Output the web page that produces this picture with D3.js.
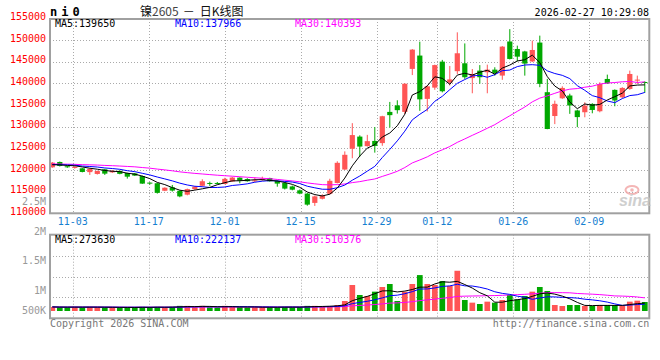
<!DOCTYPE html>
<html>
<head>
<meta charset="utf-8">
<script src="https://cdn.jsdelivr.net/npm/d3@7"></script>
<style>
  body { margin: 0; background: #fff; }
  svg { display: block; }
</style>
</head>
<body>
<svg id="chart" width="660" height="360"></svg>
<script>
const dates = ['10-29','10-30','10-31','11-03','11-04','11-05','11-06','11-07','11-10','11-11',
  '11-12','11-13','11-14','11-17','11-18','11-19','11-20','11-21','11-24','11-25',
  '11-26','11-27','11-28','12-01','12-02','12-03','12-04','12-05','12-08','12-09',
  '12-10','12-11','12-12','12-15','12-16','12-17','12-18','12-19','12-22','12-23',
  '12-24','12-25','12-26','12-29','12-30','12-31','01-05','01-06','01-07','01-08',
  '01-09','01-12','01-13','01-14','01-15','01-16','01-19','01-20','01-21','01-22',
  '01-23','01-26','01-27','01-28','01-29','01-30','02-02','02-03','02-04','02-05',
  '02-06','02-09','02-10','02-11','02-12','02-13','02-24','02-25','02-26','02-27']

const opens = [120610,121840,120850,120500,120380,119500,119080,120150,119450,119800,
  119300,119200,118600,117080,116930,115200,116000,115200,114300,115600,
  116350,117000,117000,116770,117350,118230,117900,117500,117700,118150,
  117470,117000,116200,115300,114550,112400,113350,114500,117000,120100,
  124900,127700,125500,126700,126200,133400,134900,133400,143320,146400,
  136400,139000,145000,140150,142800,144620,141200,142930,142550,143150,
  141780,149650,147920,147350,145050,149400,137950,132450,136540,137180,
  133730,133320,135240,133550,141000,138480,136770,138700,140700,140300]

const highs = [121840,121950,120950,120900,120450,120350,119850,120250,120000,119850,
  119350,119300,118700,117160,117000,116000,116540,115300,115700,116250,
  117850,117310,117230,118200,118400,118300,118100,118300,118460,118200,
  117600,117200,116400,115500,114700,114100,114400,117970,122000,124290,
  130800,128000,128100,129900,132500,135700,136080,140000,147900,149600,
  139500,144300,145400,144000,151760,149200,143300,144200,144300,143700,
  148600,152500,148690,147500,149850,151000,141020,136000,139300,137600,
  133900,135620,135400,140240,142000,138600,139100,142930,141770,140450]

const lows = [120500,120800,120500,120300,119450,118850,118950,118850,119300,119000,
  118000,118600,116800,116620,114550,115100,115010,113700,114150,115400,
  116200,116310,116700,116700,117250,116930,117300,117230,117500,117300,
  116140,115500,115300,114400,111750,111700,113200,114300,116900,120000,
  122700,123100,125400,124000,125580,129800,133000,132900,141900,133650,
  133500,138500,137900,139500,142150,141000,137700,139900,137700,141770,
  140800,145500,145080,141770,144900,139100,129400,130580,136400,132950,
  129880,132160,133080,133310,139850,134700,136600,138500,139850,137800]

const closes = [121690,120920,120620,120700,119540,120250,119770,119150,119800,119100,
  118450,118700,116850,116930,114720,115900,115240,113900,115580,116150,
  117400,116900,116930,117950,118250,117540,117400,117600,118000,117390,
  116850,115700,115450,114550,112000,113900,114100,117500,121650,123500,
  128050,125400,126650,125550,132400,132650,133800,139900,147770,136300,
  139300,144200,138160,140900,146930,141400,142150,141400,143150,142400,
  148460,145620,146150,144550,147690,139870,129450,135260,138930,134880,
  132200,134850,133850,139850,140000,136030,138930,142150,140850,140230]

// sessions before the window, estimated from where the MA lines start
const warmupCloses = [121600,121400,121700,121900,121500,121300,121600,121800,121400,121200,
  121500,121700,121300,121100,121400,121600,121200,121000,121300,121500,
  121300,121100,121400,121600,121200,121000,121300,121100,120900]

const volumes = [150000,140000,140000,150000,140000,150000,140000,130000,140000,120000,
  140000,140000,150000,130000,150000,140000,150000,190000,190000,140000,
  190000,140000,130000,190000,150000,140000,130000,140000,150000,140000,
  140000,150000,140000,150000,190000,190000,170000,185000,222000,370000,
  963000,593000,556000,716000,889000,1000000,370000,716000,1000000,1330000,
  1000000,963000,1110000,926000,1490000,407000,309000,259000,346000,309000,
  407000,593000,432000,556000,716000,889000,741000,222000,185000,222000,
  222000,185000,185000,222000,222000,222000,185000,346000,383000,333000]

const priceTicks = [110000,115000,120000,125000,130000,135000,140000,145000,150000,155000]
const dateTicks = ['11-03','11-17','12-01','12-15','12-29','01-12','01-26','02-09']
const volTickValues = [2500000,2000000,1500000,1000000,500000]
const volTickLabels = ['2.5M','2M','1.5M','1M','500K']
const maPeriods = [5, 10, 30]
const maColors = ['#000000', '#0000ff', '#ff00ff']
const priceLegend = [139650, 137966, 140393]
const volumeLegend = [273630, 222137, 510376]

const UP = '#ff5555'
const DOWN = '#00a800'
const FRAME = '#a0a0a0'
const MONO = "'DejaVu Sans Mono', monospace"

const svg = d3.select('#chart')

const plot = { left: 50, right: 649.3, top: 19, bottom: 213.3 }
const vplot = { top: 234.7, bottom: 318.3 }

const x = d3.scaleBand().domain(dates).range([48.55, 648.55])
const xGrid = d3.scalePoint().domain(dates).range([50, 650])
const y = d3.scaleLinear().domain([110000, 155000]).range([plot.bottom, 18.3])
const yVol = d3.scaleLinear().domain([0, 1000000]).range([311, 284])
const yVolGrid = d3.scaleLinear().domain([0, 4]).range([vplot.bottom, vplot.top])
const yVolLabel = d3.scaleLinear().domain([500000, 2500000]).range([320.7, 201])

const cx = i => x(dates[i]) + x.bandwidth() / 2
const crisp = v => Math.round(v) + 0.5
const isUp = i => closes[i] >= opens[i]

function movingAvg(values, n) {
  return values.map((v, i) => d3.mean(values.slice(Math.max(0, i - n + 1), i + 1)))
}

// grid lines
const grid = svg.append('g')
  .attr('stroke', '#aaa')
  .attr('stroke-dasharray', '1,2')
  .attr('stroke-width', 1)

grid.selectAll('.hgrid')
  .data(priceTicks.filter(v => v > 110000 && v < 155000))
  .join('line')
  .attr('x1', plot.left).attr('x2', plot.right)
  .attr('y1', d => crisp(y(d))).attr('y2', d => crisp(y(d)))

grid.selectAll('.vgrid')
  .data(dateTicks)
  .join('line')
  .attr('x1', d => crisp(xGrid(d))).attr('x2', d => crisp(xGrid(d)))
  .attr('y1', plot.top).attr('y2', plot.bottom)

grid.selectAll('.vhgrid')
  .data([1, 2, 3])
  .join('line')
  .attr('x1', plot.left).attr('x2', plot.right)
  .attr('y1', d => crisp(yVolGrid(d))).attr('y2', d => crisp(yVolGrid(d)))

grid.selectAll('.vvgrid')
  .data(dateTicks)
  .join('line')
  .attr('x1', d => crisp(xGrid(d))).attr('x2', d => crisp(xGrid(d)))
  .attr('y1', vplot.top).attr('y2', vplot.bottom)

// candles
const idx = d3.range(dates.length)
const candles = svg.append('g')

candles.selectAll('.wick')
  .data(idx)
  .join('line')
  .attr('x1', i => cx(i)).attr('x2', i => cx(i))
  .attr('y1', i => y(highs[i])).attr('y2', i => y(lows[i]))
  .attr('stroke', i => isUp(i) ? UP : DOWN)
  .attr('stroke-width', 1)

candles.selectAll('.body')
  .data(idx)
  .join('rect')
  .attr('x', i => cx(i) - 2.6)
  .attr('width', 5.2)
  .attr('y', i => y(Math.max(opens[i], closes[i])))
  .attr('height', i => Math.max(1, Math.abs(y(opens[i]) - y(closes[i]))))
  .attr('fill', i => isUp(i) ? UP : DOWN)

// volume bars
svg.append('g').selectAll('rect')
  .data(idx)
  .join('rect')
  .attr('x', i => x(dates[i]) + 0.9)
  .attr('width', x.bandwidth() - 1.8)
  .attr('y', i => yVol(volumes[i]))
  .attr('height', i => yVol(0) - yVol(volumes[i]))
  .attr('fill', i => isUp(i) ? UP : DOWN)

// moving averages, slowest first so MA5 sits on top
const allCloses = warmupCloses.concat(closes)
const maPrice = d3.line().x((d, i) => cx(i)).y(d => y(d))
const maVol = d3.line().x((d, i) => cx(i)).y(d => yVol(d))

maPeriods.map((n, k) => k).reverse().forEach(k => {
  const priceMa = movingAvg(allCloses, maPeriods[k]).slice(warmupCloses.length)
  svg.append('path')
    .attr('d', maPrice(priceMa))
    .attr('fill', 'none')
    .attr('stroke', maColors[k])
    .attr('stroke-width', 1)
  svg.append('path')
    .attr('d', maVol(movingAvg(volumes, maPeriods[k])))
    .attr('fill', 'none')
    .attr('stroke', maColors[k])
    .attr('stroke-width', 1)
})

// frames
svg.append('rect')
  .attr('x', plot.left).attr('y', plot.top)
  .attr('width', plot.right - plot.left).attr('height', plot.bottom - plot.top)
  .attr('fill', 'none').attr('stroke', FRAME).attr('stroke-width', 2)

svg.append('rect')
  .attr('x', plot.left).attr('y', vplot.top)
  .attr('width', plot.right - plot.left).attr('height', vplot.bottom - vplot.top)
  .attr('fill', 'none').attr('stroke', FRAME).attr('stroke-width', 2)

// axis labels
svg.append('g').selectAll('text')
  .data(priceTicks)
  .join('text')
  .attr('x', 46)
  .attr('y', d => y(d) - 1.8)
  .attr('dy', '0.36em')
  .attr('text-anchor', 'end')
  .attr('font-family', MONO)
  .attr('font-size', 10)
  .attr('fill', '#ff0000')
  .text(d => d)

svg.append('g').selectAll('text')
  .data(dateTicks)
  .join('text')
  .attr('x', d => xGrid(d))
  .attr('y', 221.7)
  .attr('dy', '0.36em')
  .attr('text-anchor', 'middle')
  .attr('font-family', MONO)
  .attr('font-size', 10)
  .attr('fill', '#1580d0')
  .text(d => d)

svg.append('g').selectAll('text')
  .data(volTickValues)
  .join('text')
  .attr('x', 46)
  .attr('y', d => Math.min(yVolLabel(d), vplot.bottom - 7.6))
  .attr('dy', '0.36em')
  .attr('text-anchor', 'end')
  .attr('font-family', MONO)
  .attr('font-size', 10)
  .attr('fill', '#999')
  .text((d, i) => volTickLabels[i])

// legends
const legendX = [55, 175, 295]
svg.append('g').selectAll('text')
  .data(priceLegend)
  .join('text')
  .attr('x', (d, i) => legendX[i])
  .attr('y', 27)
  .attr('font-family', MONO)
  .attr('font-size', 10)
  .attr('fill', (d, i) => maColors[i])
  .text((d, i) => `MA${maPeriods[i]}:${d}`)

svg.append('g').selectAll('text')
  .data(volumeLegend)
  .join('text')
  .attr('x', (d, i) => legendX[i])
  .attr('y', 242.5)
  .attr('font-family', MONO)
  .attr('font-size', 10)
  .attr('fill', (d, i) => maColors[i])
  .text((d, i) => `MA${maPeriods[i]}:${d}`)

// header
svg.append('text')
  .attr('x', 50).attr('y', 16)
  .attr('font-family', MONO)
  .attr('font-size', 12)
  .attr('font-weight', 'bold')
  .attr('letter-spacing', 4)
  .text('ni0')

const title = svg.append('text')
  .attr('x', 140).attr('y', 16)
  .attr('font-family', "'Noto Sans CJK SC', sans-serif")
  .attr('font-size', 12)
  .attr('fill', '#111')
title.append('tspan').text('镍')
title.append('tspan').attr('fill', '#444').text('2605')
title.append('tspan').attr('dx', 4).text('－')
title.append('tspan').attr('dx', 5).text('日K线图')

svg.append('text')
  .attr('x', 649).attr('y', 15.5)
  .attr('text-anchor', 'end')
  .attr('font-family', MONO)
  .attr('font-size', 10)
  .text('2026-02-27 10:29:08')

// footer
svg.append('text')
  .attr('x', 50).attr('y', 327)
  .attr('font-family', MONO)
  .attr('font-size', 10)
  .attr('fill', '#777')
  .text('Copyright 2026 SINA.COM')

svg.append('text')
  .attr('x', 649.3).attr('y', 327)
  .attr('text-anchor', 'end')
  .attr('font-family', MONO)
  .attr('font-size', 10)
  .attr('fill', '#777')
  .text('http://finance.sina.com.cn')

// watermark
const mark = svg.append('g').attr('opacity', 0.8)
mark.append('ellipse')
  .attr('cx', 632).attr('cy', 190).attr('rx', 6.5).attr('ry', 4)
  .attr('fill', 'none').attr('stroke', '#f2a5a5').attr('stroke-width', 2)
mark.append('circle')
  .attr('cx', 632).attr('cy', 190).attr('r', 1.8)
  .attr('fill', '#f2a5a5')
mark.append('text')
  .attr('x', 651).attr('y', 206)
  .attr('text-anchor', 'end')
  .attr('font-family', "'Liberation Sans', sans-serif")
  .attr('font-size', 16)
  .attr('font-weight', 'bold')
  .attr('font-style', 'italic')
  .attr('fill', '#c4c4c4')
  .text('sina')
</script>
</body>
</html>
